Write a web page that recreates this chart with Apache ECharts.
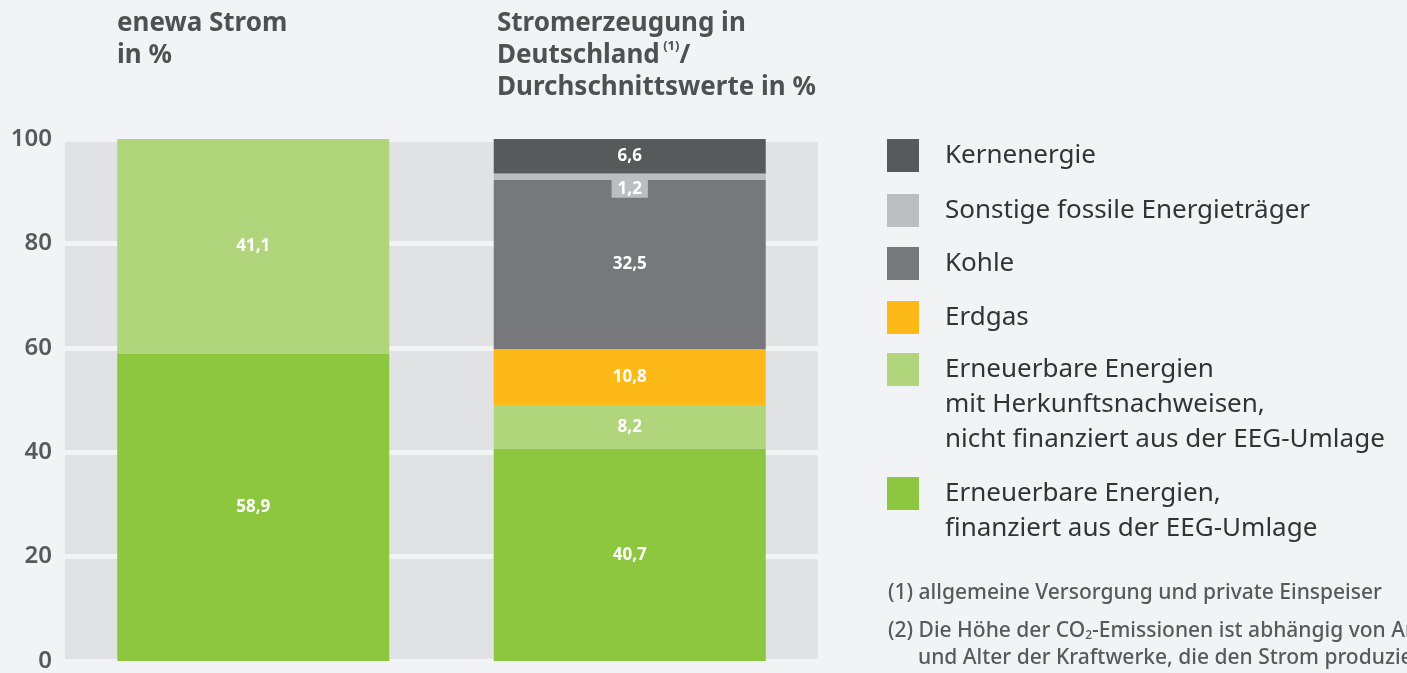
<!DOCTYPE html>
<html>
<head>
<meta charset="utf-8">
<script src="https://cdn.jsdelivr.net/npm/echarts@6/dist/echarts.min.js"></script>
<style>
  html, body { margin: 0; padding: 0; background: #f2f3f5; }
  #main { width: 1407px; height: 673px; }
</style>
</head>
<body>
<div id="main"></div>
<script>
var categories = ['enewa Strom', 'Stromerzeugung in Deutschland'];
var eegValues = [58.9, 40.7];       // Erneuerbare Energien, finanziert aus der EEG-Umlage
var hknValues = [41.1, 8.2];        // Erneuerbare Energien mit Herkunftsnachweisen
var gasValues = ['-', 10.8];        // Erdgas
var kohleValues = ['-', 32.5];      // Kohle
var sonstigeValues = ['-', 1.2];    // Sonstige fossile Energieträger
var kernValues = ['-', 6.6];        // Kernenergie
var yTicks = [0, 20, 40, 60, 80, 100];

var names = {
    kern: 'Kernenergie',
    sonstige: 'Sonstige fossile Energieträger',
    kohle: 'Kohle',
    gas: 'Erdgas',
    hkn: 'Erneuerbare Energien\nmit Herkunftsnachweisen,\nnicht finanziert aus der EEG-Umlage',
    eeg: 'Erneuerbare Energien,\nfinanziert aus der EEG-Umlage'
};

var font = '"Noto Sans", sans-serif';
var fmt = function (p) { return p.value.toFixed(1).replace('.', ','); };

var barLabel = {
    show: true,
    position: 'inside',
    color: '#fff',
    fontFamily: font,
    fontWeight: 'bold',
    fontSize: 17,
    formatter: fmt
};

function barSeries(name, values, color, label) {
    return {
        name: name,
        type: 'bar',
        stack: 'total',
        barWidth: 272,
        data: values,
        itemStyle: { color: color },
        label: label || barLabel
    };
}

// one legend per entry; empty lines in front keep the square beside the first text line
function legendFor(name, top, lines) {
    return {
        data: [name],
        orient: 'vertical',
        left: 887,
        top: top,
        padding: 0,
        itemWidth: 32,
        itemHeight: 33,
        icon: 'rect',
        selectedMode: false,
        formatter: function (n) {
            return new Array(lines).join('\n') + n;
        },
        textStyle: {
            fontFamily: font,
            fontSize: 26,
            color: '#333',
            lineHeight: lines > 1 ? 35 : 33,
            padding: [0, 0, 0, 21]
        }
    };
}

var myChart = echarts.init(document.getElementById('main'));
var option = {
    backgroundColor: '#f2f3f5',
    animation: false,
    title: [{
        text: 'enewa Strom\nin %',
        left: 117,
        top: 8,
        padding: 0,
        textStyle: { fontFamily: font, fontSize: 26, fontWeight: 'bold', color: '#4f5052', lineHeight: 32 }
    }, {
        text: 'Stromerzeugung in\nDeutschland{sup| (1)}/\nDurchschnittswerte in %',
        left: 497,
        top: 8,
        padding: 0,
        textStyle: {
            fontFamily: font, fontSize: 26, fontWeight: 'bold', color: '#4f5052', lineHeight: 32,
            rich: { sup: { fontFamily: font, fontSize: 13, fontWeight: 'bold', color: '#4f5052', verticalAlign: 'top', padding: [0, 0, 10, 0] } }
        }
    }],
    legend: [
        legendFor(names.kern, 139, 1),
        legendFor(names.sonstige, 194, 1),
        legendFor(names.kohle, 247, 1),
        legendFor(names.gas, 301, 1),
        legendFor(names.hkn, 353 - 71, 3),
        legendFor(names.eeg, 477 - 36, 2)
    ],
    grid: {
        left: 65,
        right: 589,
        top: 139,
        bottom: 8,
        show: true,
        backgroundColor: '#e1e2e4',
        borderWidth: 0
    },
    xAxis: {
        type: 'category',
        data: categories,
        axisLine: { show: false },
        axisTick: { show: false },
        axisLabel: { show: false }
    },
    yAxis: {
        type: 'value',
        min: yTicks[0],
        max: yTicks[yTicks.length - 1],
        interval: 20,
        axisLine: { show: false },
        axisTick: { show: false },
        axisLabel: { fontFamily: font, fontSize: 24, fontWeight: 600, color: '#58595b', margin: 13 },
        splitLine: { show: true, lineStyle: { color: '#f2f3f5', width: 5 } }
    },
    series: [
        barSeries(names.eeg, eegValues, '#8dc63f'),
        barSeries(names.hkn, hknValues, '#b0d57a'),
        barSeries(names.gas, gasValues, '#fcb918'),
        barSeries(names.kohle, kohleValues, '#77787b'),
        barSeries(names.sonstige, sonstigeValues, '#bcbdc0', {
            show: true,
            position: 'bottom',
            distance: 0,
            color: '#fff',
            fontFamily: font,
            fontWeight: 'bold',
            fontSize: 17,
            lineHeight: 17,
            backgroundColor: '#bcbdc0',
            padding: [1, 6, 0, 6],
            formatter: fmt
        }),
        barSeries(names.kern, kernValues, '#58595b')
    ],
    graphic: [{
        type: 'text',
        left: 888,
        top: 583,
        style: {
            text: '(1) allgemeine Versorgung und private Einspeiser',
            font: '500 21px ' + font,
            fill: '#58595b'
        }
    }, {
        type: 'text',
        left: 888,
        top: 621,
        style: {
            text: '(2) Die Höhe der CO{sub|2}-Emissionen ist abhängig von Art',
            font: '500 21px ' + font,
            fill: '#58595b',
            rich: { sub: { fontSize: 12, fontFamily: font, fontWeight: 500, fill: '#58595b', verticalAlign: 'bottom', padding: [9, 0, 0, 0] } }
        }
    }, {
        type: 'text',
        left: 918,
        top: 648,
        style: {
            text: 'und Alter der Kraftwerke, die den Strom produzieren.',
            font: '500 21px ' + font,
            fill: '#58595b'
        }
    }]
};
myChart.setOption(option);
</script>
</body>
</html>
